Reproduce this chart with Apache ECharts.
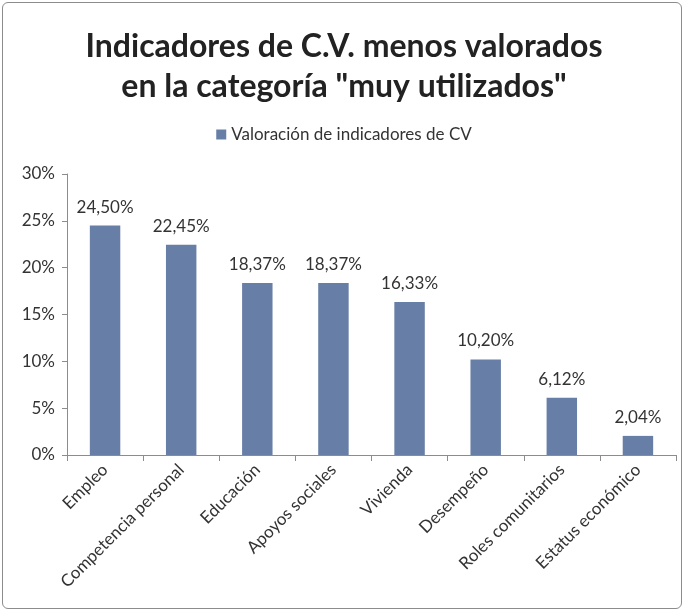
<!DOCTYPE html>
<html>
<head>
<meta charset="utf-8">
<script src="https://cdn.jsdelivr.net/npm/echarts@6/dist/echarts.min.js"></script>
<style>
  html, body { margin: 0; padding: 0; background: #fff; }
  .frame {
    position: absolute; left: 2px; top: 2px; width: 680px; height: 607px;
    border: 1px solid #8c8c8c; border-radius: 6px; box-sizing: border-box;
  }
  #chart { position: absolute; left: 0; top: 0; width: 688px; height: 613px; }
</style>
</head>
<body>
<div class="frame"></div>
<div id="chart"></div>
<script>
var categories = ['Empleo', 'Competencia personal', 'Educación', 'Apoyos sociales',
  'Vivienda', 'Desempeño', 'Roles comunitarios', 'Estatus económico'];
var values = [24.50, 22.45, 18.37, 18.37, 16.33, 10.20, 6.12, 2.04];
var seriesName = 'Valoración de indicadores de CV';
var yTicks = [0, 5, 10, 15, 20, 25, 30];

var font = 'Lato, "Open Sans", sans-serif';
var myChart = echarts.init(document.getElementById('chart'));
var options = {
  animation: false,
  title: {
    text: 'Indicadores de C.V. menos valorados\nen la categoría "muy utilizados"',
    left: 'center',
    top: 22,
    textStyle: {
      fontFamily: font,
      fontSize: 32,
      fontWeight: 'bold',
      color: '#222',
      lineHeight: 40
    }
  },
  legend: {
    data: [seriesName],
    top: 121,
    left: 'center',
    itemWidth: 10,
    itemHeight: 10,
    itemGap: 6,
    icon: 'rect',
    textStyle: { fontFamily: font, fontSize: 17, color: '#333' }
  },
  grid: { left: 67, right: 12, top: 174, bottom: 158 },
  xAxis: {
    type: 'category',
    data: categories,
    axisLine: { lineStyle: { color: '#8c8c8c' } },
    axisTick: { show: true, alignWithLabel: false, length: 6, lineStyle: { color: '#8c8c8c' } },
    axisLabel: {
      interval: 0,
      rotate: 45,
      margin: 12,
      fontFamily: font,
      fontSize: 17,
      color: '#333'
    }
  },
  yAxis: {
    type: 'value',
    min: yTicks[0],
    max: yTicks[yTicks.length - 1],
    interval: 5,
    axisLine: { show: true, lineStyle: { color: '#8c8c8c' } },
    axisTick: { show: true, length: 5, lineStyle: { color: '#8c8c8c' } },
    splitLine: { show: false },
    axisLabel: {
      margin: 12,
      fontFamily: font,
      fontSize: 17,
      color: '#333',
      formatter: function (v) { return v + '%'; }
    }
  },
  series: [{
    name: seriesName,
    type: 'bar',
    data: values,
    barWidth: '40%',
    itemStyle: { color: '#677ea6' },
    label: {
      show: true,
      position: 'top',
      distance: 10,
      fontFamily: font,
      fontSize: 17,
      color: '#333',
      formatter: function (p) { return p.value.toFixed(2).replace('.', ',') + '%'; }
    }
  }]
};
myChart.setOption(options);
</script>
</body>
</html>
